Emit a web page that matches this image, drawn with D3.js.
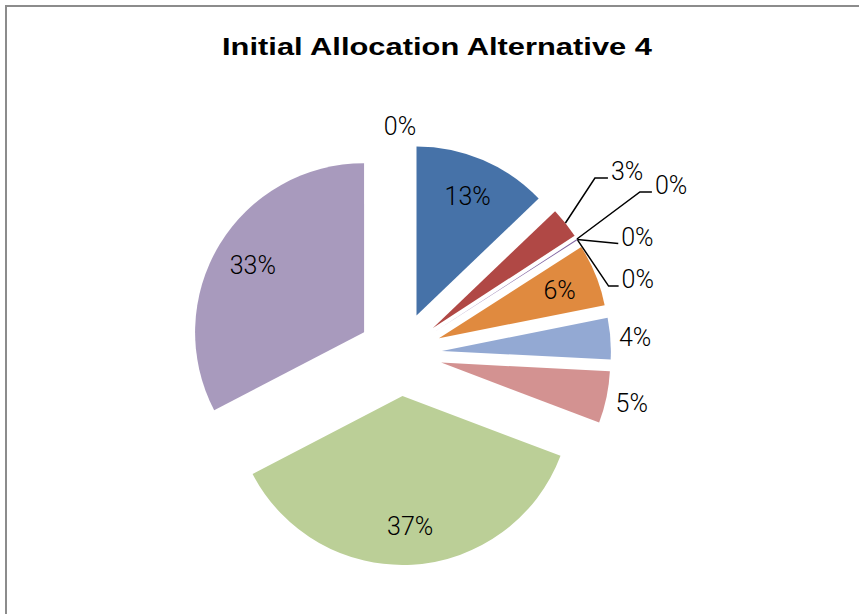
<!DOCTYPE html>
<html>
<head>
<meta charset="utf-8">
<script src="https://cdn.jsdelivr.net/npm/d3@7"></script>
<style>
  body { margin: 0; background: #fff; }
  svg { display: block; }
</style>
</head>
<body>
<div id="chart"></div>
<script>
// Slice values (percent), in drawing order starting at 12 o'clock, clockwise
const categories = ['S1', 'S2', 'S3', 'S4', 'S5', 'S6', 'S7', 'S8', 'S9', 'S10', 'S11'];
const values = [13, 3, 0, 0.1, 0, 6, 4, 5, 37, 33, 0];
const colors = ['#4672a8', '#b04845', '#9bbb59', '#8064a2', '#4bacc6', '#e08a3f',
                '#93a9d3', '#d39291', '#bbcf97', '#a89abd', '#4f81bd'];
const title = 'Initial Allocation Alternative 4';

const width = 859;
const height = 614;
const cx = 400, cy = 354;
const radius = 169;
const explode = 42;

// label placement: 'in' inside slice, 'out' outside, 'lead' with leader line
const labelMode = ['in', 'lead', 'lead', 'lead', 'lead', 'in', 'out', 'out', 'in', 'in', 'out'];
// leader elbows, offset from the slice's outer point, and horizontal tail length
const leaders = {
    1: {dx: 29.5, dy: -45, tail: 13},
    2: {dx: 63, dy: -47, tail: 12},
    3: {dx: 41, dy: 4, tail: 0},
    4: {dx: 31, dy: 46, tail: 10}
};

const svg = d3.select('#chart')
    .append('svg')
    .attr('width', width)
    .attr('height', height);

// chart frame (only top and left edges show)
svg.append('path')
    .attr('d', `M6,${height} L6,6 L${width},6`)
    .attr('fill', 'none')
    .attr('stroke', '#8c8c8c')
    .attr('stroke-width', 2);

// title: bold, squeezed horizontally to look condensed like the original
const titleEl = svg.append('text')
    .attr('x', 0)
    .attr('y', 0)
    .attr('text-anchor', 'middle')
    .attr('font-family', '"Liberation Sans", Arial, sans-serif')
    .attr('font-weight', 'bold')
    .attr('font-size', 23)
    .attr('fill', '#000')
    .text(title);
const tw = titleEl.node().getComputedTextLength();
titleEl.attr('transform', `translate(437,55) scale(${430 / tw},1)`);

const total = d3.sum(values);
const pie = d3.pie().sort(null).value(d => d)(values);
const arc = d3.arc().innerRadius(0).outerRadius(radius);

const dir = a => [Math.sin(a), -Math.cos(a)];

pie.forEach((d, i) => {
    const mid = (d.startAngle + d.endAngle) / 2;
    const [ux, uy] = dir(mid);
    d.apex = [cx + ux * explode, cy + uy * explode];
    d.mid = mid;
    d.i = i;
});

const g = svg.append('g');

g.selectAll('path.slice')
    .data(pie.filter(d => d.value > 0))
    .enter().append('path')
    .attr('class', 'slice')
    .attr('transform', d => `translate(${d.apex[0]},${d.apex[1]})`)
    .attr('d', arc)
    .attr('fill', d => colors[d.i]);

const fmt = v => Math.round(v / total * 100) + '%';
const fontSize = 25;
const labelFont = 'Roboto, sans-serif';

const labels = svg.append('g')
    .attr('font-family', labelFont)
    .attr('font-size', fontSize)
    .attr('font-weight', 300)
    .attr('fill', '#000');

pie.forEach(d => {
    const mode = labelMode[d.i];
    const [ux, uy] = dir(d.mid);
    const txt = fmt(d.value);
    if (mode === 'in') {
        const dist = radius * 0.77;
        labels.append('text')
            .attr('x', d.apex[0] + ux * dist)
            .attr('y', d.apex[1] + uy * dist)
            .attr('dy', '0.36em')
            .attr('text-anchor', 'middle')
            .text(txt);
    } else if (mode === 'out') {
        const t = labels.append('text')
            .attr('text-anchor', 'middle')
            .attr('dy', '0.36em')
            .text(txt);
        const w = t.node().getComputedTextLength();
        const h = fontSize * 0.74;
        const dist = radius + 8 + (w / 2) * Math.abs(ux) + (h / 2) * Math.abs(uy);
        t.attr('x', d.apex[0] + ux * dist)
         .attr('y', d.apex[1] + uy * dist);
    } else {
        const L = leaders[d.i];
        const ox = d.apex[0] + ux * radius;
        const oy = d.apex[1] + uy * radius;
        const ex = ox + L.dx, ey = oy + L.dy;
        const tx = ex + L.tail;
        svg.append('path')
            .attr('d', `M${ox},${oy} L${ex},${ey} L${tx},${ey}`)
            .attr('fill', 'none')
            .attr('stroke', '#000')
            .attr('stroke-width', 1.5);
        labels.append('text')
            .attr('x', tx + 3)
            .attr('y', ey + 2)
            .text(txt);
    }
});
</script>
</body>
</html>
